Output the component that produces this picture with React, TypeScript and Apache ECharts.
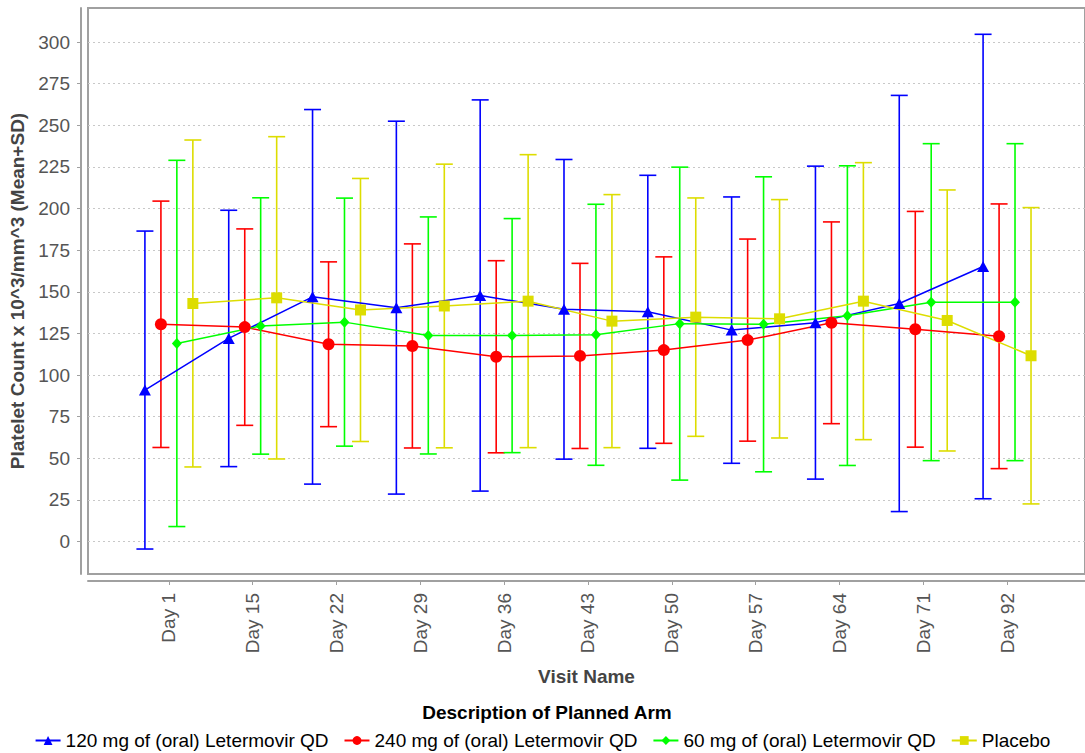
import React, { useEffect, useRef } from 'react';
import * as echarts from 'echarts';

const FONT = '"Liberation Sans", Arial, Helvetica, sans-serif';

const visits = ['Day 1', 'Day 15', 'Day 22', 'Day 29', 'Day 36', 'Day 43', 'Day 50', 'Day 57', 'Day 64', 'Day 71', 'Day 92'];
const arms = [
  '120 mg of (oral) Letermovir QD',
  '240 mg of (oral) Letermovir QD',
  '60 mg of (oral) Letermovir QD',
  'Placebo',
];
const yTicks = [0, 25, 50, 75, 100, 125, 150, 175, 200, 225, 250, 275, 300];

const mean120 = [91, 122, 147, 140.5, 147.8, 139.5, 138, 127, 131.5, 143, 165.2];
const sd120 = [95.5, 77, 112.5, 112, 117.5, 90, 82, 80, 94, 125, 139.5];
const mean240 = [130.5, 128.8, 118.5, 117.5, 111, 111.5, 115, 121, 131.4, 127.5, 123.3];
const sd240 = [74, 59, 49.5, 61.3, 57.7, 55.6, 56, 60.7, 60.6, 70.8, 79.5];
const mean60 = [119, 129.5, 131.8, 123.8, 123.7, 124.2, 130.9, 130.5, 135.7, 143.8, 143.8];
const sd60 = [110, 77, 74.5, 71.2, 70.3, 78.4, 94, 88.6, 90, 95.2, 95.2];
const meanPbo = [143, 146.4, 139.1, 141.5, 144.4, 132.4, 134.8, 133.8, 144.4, 132.8, 111.6];
const sdPbo = [98.2, 96.8, 79, 85.2, 88, 76, 71.6, 71.6, 83.2, 78.4, 89];

const means = [mean120, mean240, mean60, meanPbo];
const sds = [sd120, sd240, sd60, sdPbo];
const colors = ['#0000ff', '#ff0000', '#00ff00', '#dddd00'];
const symbols = ['triangle', 'circle', 'diamond', 'rect'];
const symbolSizes: any[] = [[12, 11], 12, [10, 11], 11];
// position of each arm inside its visit category (fraction of category width)
const armOffsets = [-0.286, -0.095, 0.095, 0.286];

export default function App() {
  const ref = useRef<HTMLDivElement>(null);
  useEffect(() => {
    const chart = echarts.init(ref.current!, null, { renderer: 'svg' });
    const xTicks = visits.map((_, i) => i);
    const lineSeries = arms.map((name, s) => ({
      name,
      type: 'line',
      data: means[s].map((m, i) => [i + armOffsets[s], m]),
      symbol: symbols[s],
      symbolSize: symbolSizes[s],
      itemStyle: { color: colors[s] },
      lineStyle: { color: colors[s], width: 1.5 },
      z: 3,
      emphasis: { disabled: true },
    }));
    const errSeries = arms.map((name, s) => ({
      name,
      type: 'custom',
      z: 2,
      encode: { x: 0, y: [1, 2] },
      data: means[s].map((m, i) => [i + armOffsets[s], m - sds[s][i], m + sds[s][i]]),
      renderItem: (_p: any, api: any) => {
        const x = api.value(0);
        const lo = api.coord([x, api.value(1)]);
        const hi = api.coord([x, api.value(2)]);
        const hw = 8.5;
        const style = { stroke: colors[s], lineWidth: 1.6, fill: null };
        return {
          type: 'group',
          children: [
            { type: 'line', shape: { x1: lo[0], y1: lo[1], x2: hi[0], y2: hi[1] }, style },
            { type: 'line', shape: { x1: lo[0] - hw, y1: lo[1], x2: lo[0] + hw, y2: lo[1] }, style },
            { type: 'line', shape: { x1: hi[0] - hw, y1: hi[1], x2: hi[0] + hw, y2: hi[1] }, style },
          ],
        };
      },
    }));
    const axisColor = '#a0a0a0';
    const option: any = {
      animation: false,
      backgroundColor: '#ffffff',
      textStyle: { fontFamily: FONT },
      grid: {
        left: 88,
        top: 8,
        width: 998,
        height: 566,
        show: true,
        borderColor: axisColor,
        borderWidth: 2,
        backgroundColor: '#ffffff',
      },
      xAxis: {
        type: 'value',
        min: -0.965,
        max: 10.93,
        offset: 7,
        axisLine: { show: true, onZero: false, lineStyle: { color: axisColor, width: 2 } },
        axisTick: { show: true, customValues: xTicks, length: 4, lineStyle: { color: axisColor, width: 1 } },
        axisLabel: {
          customValues: xTicks,
          rotate: 90,
          margin: 12,
          formatter: (v: number) => visits[Math.round(v)],
          color: '#555555',
          fontSize: 19,
          fontFamily: FONT,
        },
        splitLine: { show: false },
        name: 'Visit Name',
        nameLocation: 'middle',
        nameGap: 86,
        nameTextStyle: { fontWeight: 'bold', fontSize: 19, color: '#444444', fontFamily: FONT },
      },
      yAxis: {
        type: 'value',
        min: -19.5,
        max: 320.5,
        offset: 7,
        axisLine: { show: true, onZero: false, lineStyle: { color: axisColor, width: 2 } },
        axisTick: { show: true, customValues: yTicks, length: 4, lineStyle: { color: axisColor, width: 1 } },
        axisLabel: { customValues: yTicks, margin: 11, color: '#555555', fontSize: 19, fontFamily: FONT },
        splitLine: { show: true, lineStyle: { color: '#c8c8c8', width: 1, type: [2, 3] } },
        name: 'Platelet Count x 10^3/mm^3 (Mean+SD)',
        nameLocation: 'middle',
        nameGap: 54,
        nameTextStyle: { fontWeight: 'bold', fontSize: 19, color: '#444444', fontFamily: FONT },
      },
      legend: {
        data: arms,
        top: 731,
        left: 'center',
        padding: 0,
        itemWidth: 25,
        itemHeight: 11,
        itemGap: 15,
        textStyle: { fontSize: 19, color: '#000000', fontFamily: FONT },
      },
      graphic: [
        {
          type: 'text',
          x: 547,
          y: 712,
          style: {
            text: 'Description of Planned Arm',
            fontSize: 19,
            fontWeight: 'bold',
            fontFamily: FONT,
            fill: '#000000',
            textAlign: 'center',
            textVerticalAlign: 'middle',
          },
        },
      ],
      series: [...lineSeries, ...errSeries],
    };
    chart.setOption(option);
    return () => chart.dispose();
  }, []);
  return (
    <div
      ref={ref}
      style={{ position: 'fixed', left: 0, top: 0, width: 1085, height: 753, background: '#ffffff' }}
    />
  );
}
